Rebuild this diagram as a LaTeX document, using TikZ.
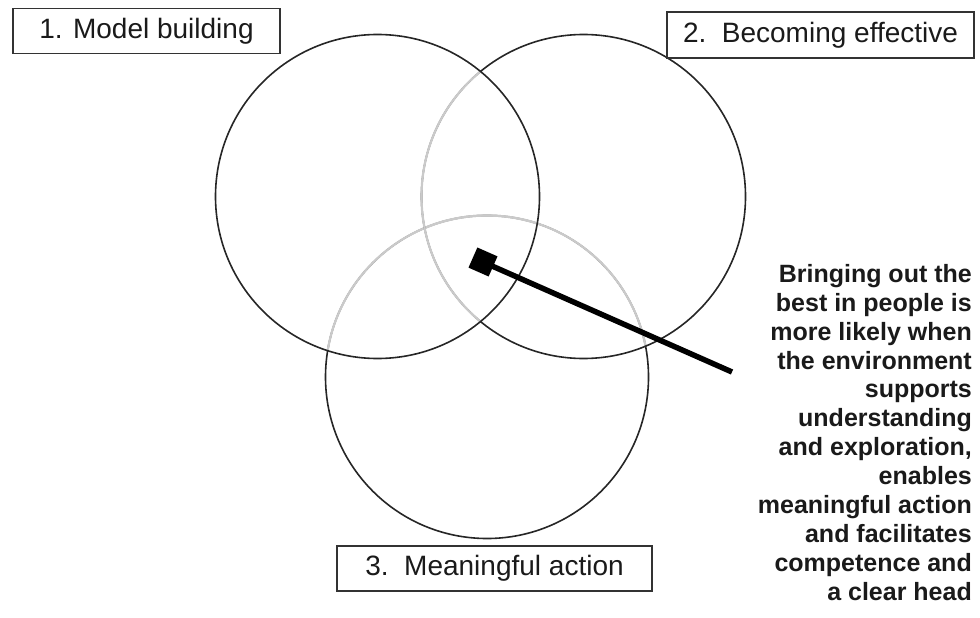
\documentclass[tikz,border=0pt]{standalone}
\usepackage{fontspec}
\setmainfont{Liberation Sans}
\definecolor{ringdark}{HTML}{262626}
\definecolor{ringlight}{HTML}{CACACA}
\definecolor{boxedge}{HTML}{333333}
\definecolor{textdark}{HTML}{1A1A1A}
\begin{document}
\begin{tikzpicture}[x=1pt,y=-1pt,
  ring/.style={draw=ringdark, line width=1.6pt},
  ringfaint/.style={draw=ringlight, line width=2.2pt},
  labelbox/.style={draw=boxedge, line width=1.6pt, fill=white, inner sep=0pt,
    text=textdark, font=\fontsize{28}{32}\selectfont, minimum height=45pt},
  note/.style={align=right, inner sep=0pt, text=textdark,
    font=\fontsize{25}{28.9}\selectfont\bfseries},
  pointer/.style={line width=5.5pt, draw=black},
  marker/.style={fill=black, minimum size=22pt, inner sep=0pt, shape=rectangle}
]
\useasboundingbox (0,0) rectangle (980,618);
\fill[white] (0,0) rectangle (980,618);

% centres of the three circles
\coordinate (c1) at (377.5,196.5);
\coordinate (c2) at (583.5,196.5);
\coordinate (c3) at (487,377);

% circle 3: lowest layer, faint where covered by circles 1 and 2
\draw[ring] (c3) circle[radius=161.5pt];
\begin{scope}
  \clip (c1) circle[radius=162pt];
  \draw[ringfaint] (c3) circle[radius=161.5pt];
\end{scope}
\begin{scope}
  \clip (c2) circle[radius=162pt];
  \draw[ringfaint] (c3) circle[radius=161.5pt];
\end{scope}

% circle 2: faint where covered by circle 1
\draw[ring] (c2) circle[radius=162pt];
\begin{scope}
  \clip (c1) circle[radius=162pt];
  \draw[ringfaint] (c2) circle[radius=162pt];
\end{scope}

% circle 1: top layer
\draw[ring] (c1) circle[radius=162pt];

% pointer from the shared centre to the explanation
\coordinate (tail) at (732,372);
\node[marker, rotate=-23.8] (tip) at (483,262) {};
\draw[pointer] (tip.center) -- (tail);

% labels
\node[labelbox, minimum width=267pt] (l1) at (146.5,31) {1. Model building};
\node[labelbox, minimum width=307pt, minimum height=46pt] (l2) at (820.5,35) {2.\ \ Becoming effective};
\node[labelbox, minimum width=315pt] (l3) at (494.5,568.5) {3.\ \ Meaningful action};

% explanation text
\node[note, anchor=north east] (txt) at (972,264) {Bringing out the\\best in people is\\more likely when\\the environment\\supports\\understanding\\and exploration,\\enables\\meaningful action\\and facilitates\\competence and\\a clear head};
\end{tikzpicture}
\end{document}
